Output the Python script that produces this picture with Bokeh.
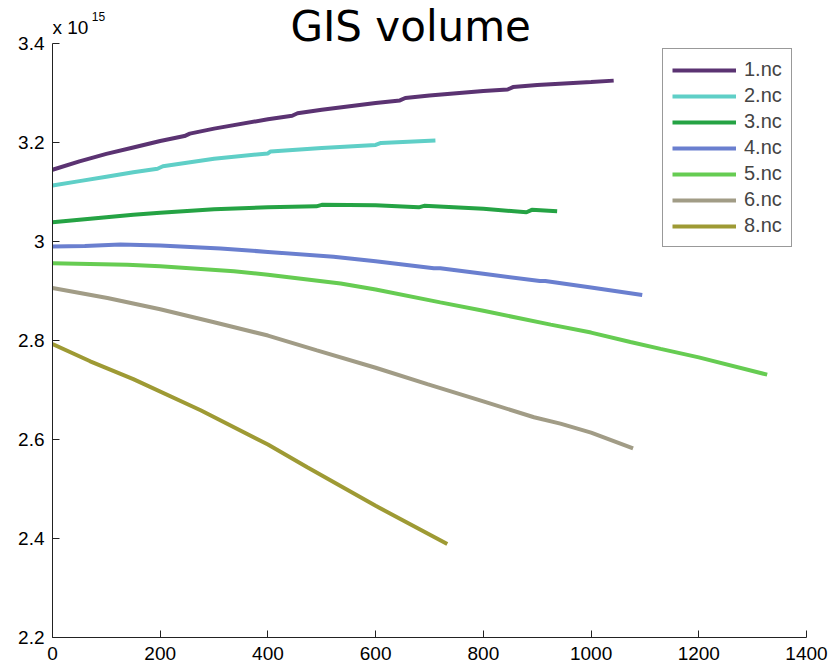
from bokeh.plotting import figure
from bokeh.models import Range1d, FixedTicker, Label, Legend, LegendItem
from bokeh.embed import file_html
from bokeh.resources import INLINE

# values in units of 1e15
SCALE_LABEL = "x 10"
SCALE_EXP = "15"
TITLE = "GIS volume"

x1 = [0, 50, 100, 150, 200, 245, 255, 300, 400, 445, 455, 500, 600, 645, 655, 700, 800, 845, 855, 900, 1000, 1042]
y1 = [3.145, 3.162, 3.177, 3.190, 3.203, 3.213, 3.218, 3.228, 3.247, 3.254, 3.259, 3.266, 3.280, 3.285, 3.290, 3.295, 3.304, 3.307, 3.312, 3.316, 3.322, 3.325]

x2 = [0, 50, 100, 150, 195, 205, 300, 400, 405, 500, 600, 610, 711]
y2 = [3.113, 3.122, 3.131, 3.140, 3.147, 3.152, 3.167, 3.178, 3.182, 3.189, 3.195, 3.199, 3.204]

x3 = [0, 100, 150, 200, 300, 400, 490, 500, 600, 680, 690, 800, 880, 890, 937]
y3 = [3.039, 3.049, 3.054, 3.058, 3.065, 3.069, 3.071, 3.074, 3.073, 3.069, 3.072, 3.066, 3.059, 3.064, 3.061]

x4 = [0, 60, 126, 200, 312, 400, 522, 600, 708, 720, 800, 905, 915, 1000, 1095]
y4 = [2.990, 2.991, 2.994, 2.992, 2.986, 2.979, 2.969, 2.960, 2.946, 2.946, 2.935, 2.920, 2.920, 2.907, 2.892]

x5 = [0, 139, 200, 337, 400, 535, 600, 720, 800, 925, 1000, 1073, 1129, 1200, 1327]
y5 = [2.956, 2.953, 2.950, 2.940, 2.933, 2.915, 2.903, 2.877, 2.860, 2.832, 2.816, 2.797, 2.783, 2.766, 2.731]

x6 = [0, 102, 200, 300, 400, 491, 600, 696, 800, 894, 943, 1000, 1078]
y6 = [2.906, 2.886, 2.863, 2.837, 2.810, 2.780, 2.745, 2.712, 2.677, 2.645, 2.632, 2.614, 2.582]

x8 = [0, 70, 150, 275, 400, 473, 600, 733]
y8 = [2.793, 2.758, 2.722, 2.659, 2.590, 2.544, 2.466, 2.389]

names = ["1.nc", "2.nc", "3.nc", "4.nc", "5.nc", "6.nc", "8.nc"]
colors = ["#5B3372", "#5FCFC7", "#25A344", "#6A7FCF", "#66CC52", "#A19C86", "#9E9A34"]
series = [(x1, y1), (x2, y2), (x3, y3), (x4, y4), (x5, y5), (x6, y6), (x8, y8)]

x_ticks = [0, 200, 400, 600, 800, 1000, 1200, 1400]
y_ticks = [2.2, 2.4, 2.6, 2.8, 3.0, 3.2, 3.4]
y_tick_labels = ["2.2", "2.4", "2.6", "2.8", "3", "3.2", "3.4"]

Y_MIN, Y_MAX = 2.2, 3.4
PX_PER_Y = 495.0
FRAME_H = 637
y_end = Y_MIN + FRAME_H / PX_PER_Y

p = figure(width=833, height=671, output_backend="svg", toolbar_location=None,
           x_range=Range1d(0, 1400), y_range=Range1d(Y_MIN, y_end),
           min_border_left=52, min_border_right=27, min_border_top=0, min_border_bottom=34)
p.outline_line_color = None
p.xgrid.visible = False
p.ygrid.visible = False
p.background_fill_color = "white"
p.border_fill_color = "white"

items = []
for (xs, ys), name, c in zip(series, names, colors):
    r = p.line(xs, ys, line_color=c, line_width=4)
    items.append(LegendItem(label=name, renderers=[r]))

legend = Legend(items=items, location=(610, 390),
                padding=9, spacing=3, glyph_width=64, glyph_height=20,
                label_height=20, label_standoff=8,
                label_text_font="Liberation Sans", label_text_font_size="20px",
                border_line_color="#333333", border_line_width=1,
                background_fill_alpha=1.0)
p.add_layout(legend)

for ax in (p.xaxis[0], p.yaxis[0]):
    ax.major_tick_in = 7
    ax.major_tick_out = 0
    ax.minor_tick_in = 0
    ax.minor_tick_out = 0
    ax.axis_line_color = "#222222"
    ax.major_tick_line_color = "#222222"
    ax.major_label_text_font = "Liberation Sans"
    ax.major_label_text_font_size = "19px"
    ax.major_label_text_color = "black"

p.yaxis[0].bounds = (Y_MIN, Y_MAX)
p.xaxis[0].ticker = FixedTicker(ticks=x_ticks)
p.yaxis[0].ticker = FixedTicker(ticks=y_ticks)
p.yaxis[0].major_label_overrides = {t: l for t, l in zip(y_ticks, y_tick_labels)}
p.xaxis[0].major_label_standoff = 9
p.yaxis[0].major_label_standoff = 8

p.add_layout(Label(x=665, y=Y_MAX + 17 / PX_PER_Y, text=TITLE, text_align="center",
                   text_baseline="alphabetic",
                   text_font="DejaVu Sans", text_font_size="42px", text_color="black"))
p.add_layout(Label(x=0, y=Y_MAX + 16 / PX_PER_Y, text=SCALE_LABEL, text_align="left",
                   text_baseline="alphabetic",
                   text_font="Liberation Sans", text_font_size="19px", text_color="black"))
p.add_layout(Label(x=73, y=Y_MAX + 27 / PX_PER_Y, text=SCALE_EXP, text_align="left",
                   text_baseline="alphabetic",
                   text_font="Liberation Sans", text_font_size="12px", text_color="black"))

open("out.html", "w").write(file_html(p, INLINE))
